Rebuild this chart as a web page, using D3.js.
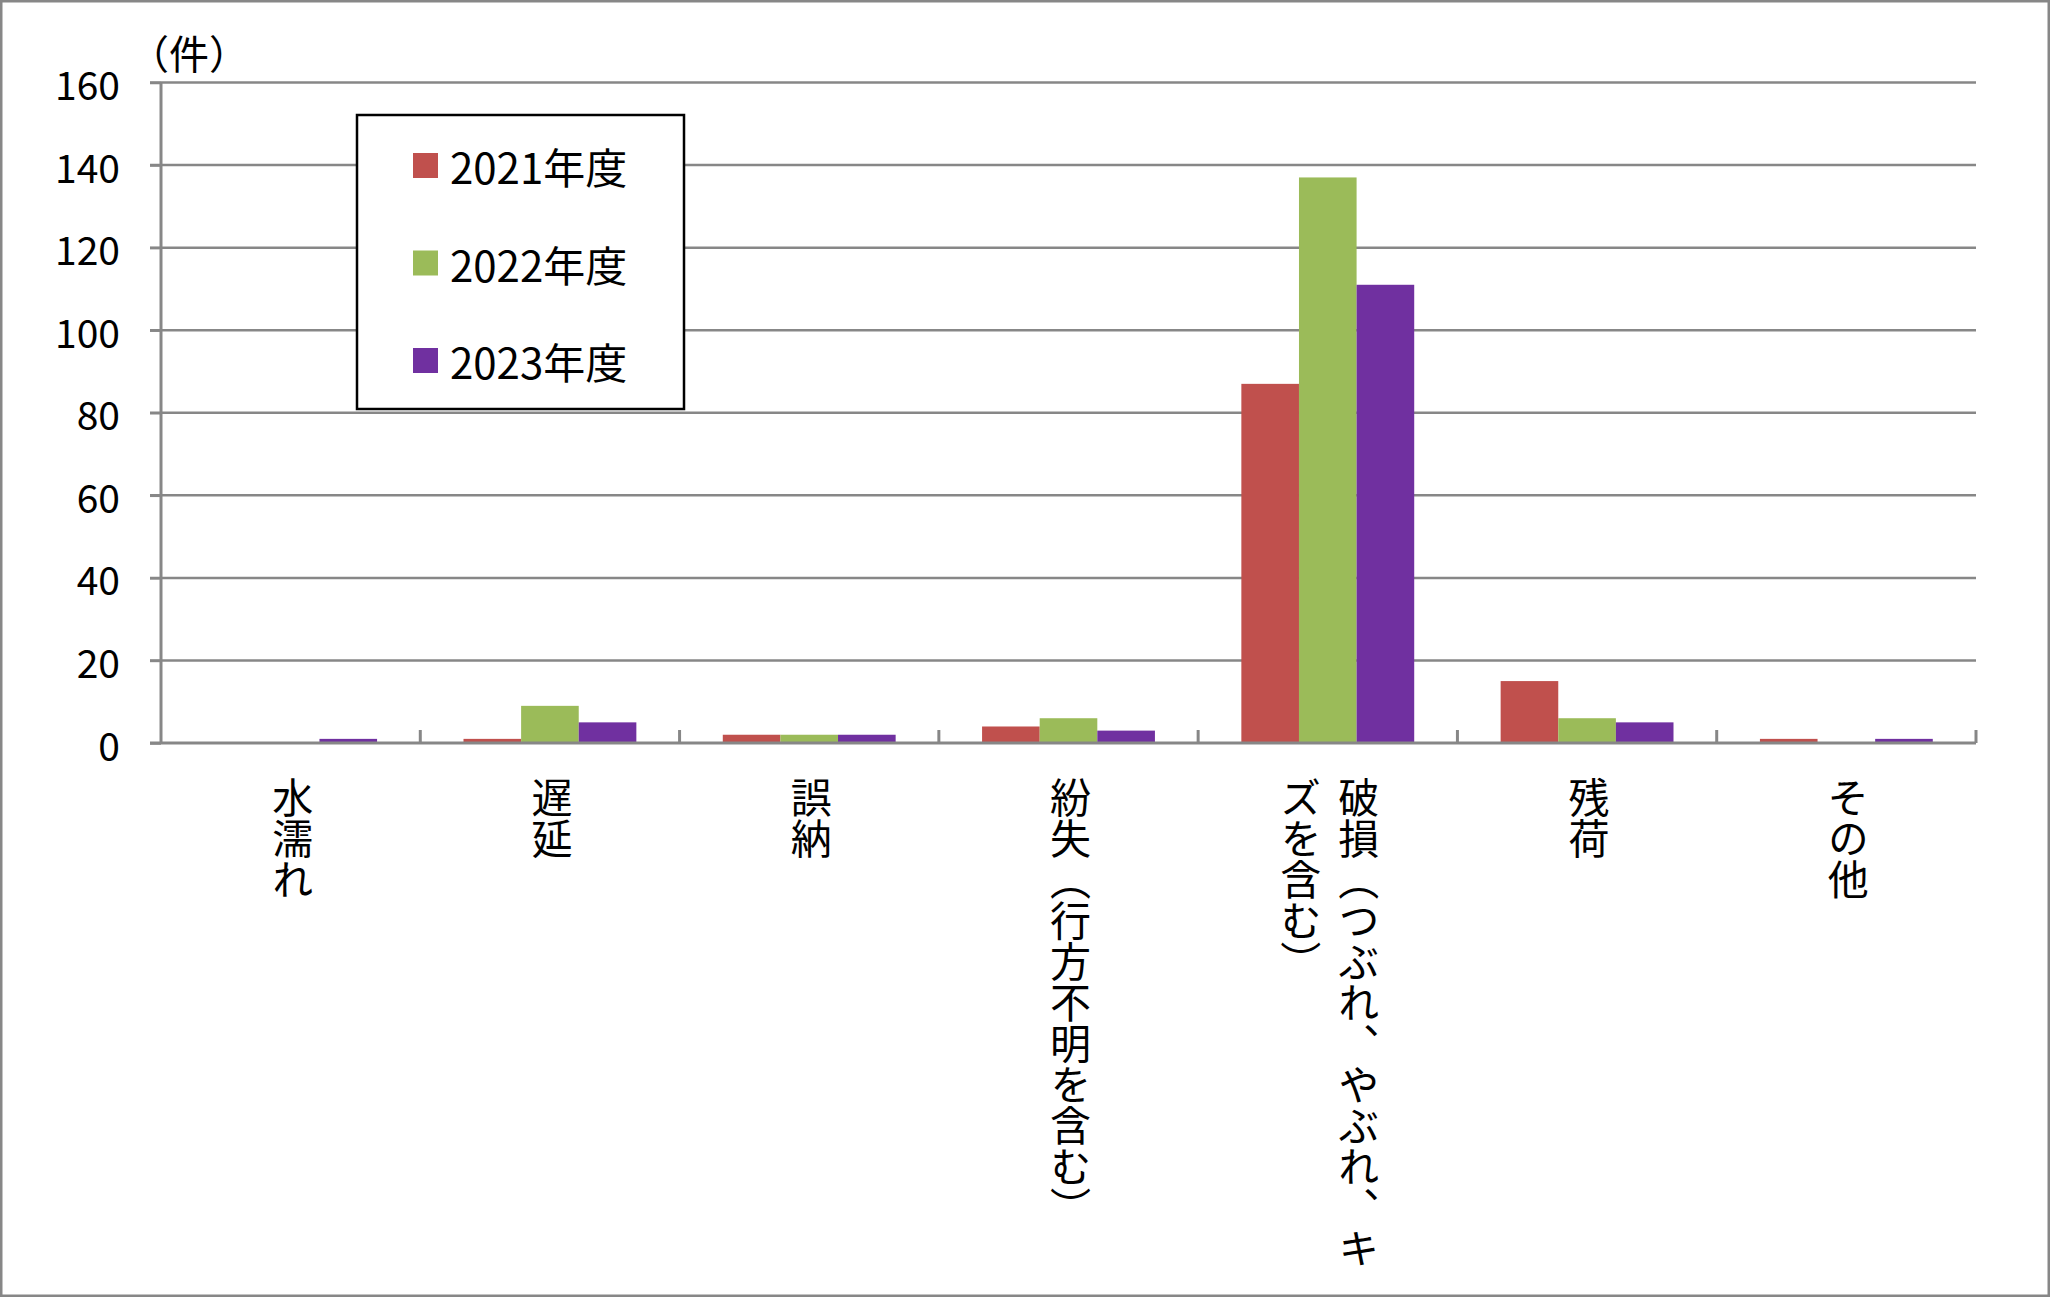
<!DOCTYPE html>
<html>
<head>
<meta charset="utf-8">
<script src="https://cdn.jsdelivr.net/npm/d3@7"></script>
<style>
  html, body { margin: 0; padding: 0; background: #fff; }
  svg text { font-family: "Noto Sans CJK JP", "Noto Sans", sans-serif; fill: #000; }
</style>
</head>
<body>
<div id="chart"></div>
<script>
'use strict';

// data
const categories = ["水濡れ", "遅延", "誤納", "紛失（行方不明を含む）", "破損（つぶれ、やぶれ、キズを含む）", "残荷", "その他"];
// how each category label wraps (vertical columns, right to left)
const categoryLines = [
    ["水濡れ"],
    ["遅延"],
    ["誤納"],
    ["紛失（行方不明を含む）"],
    ["破損（つぶれ、やぶれ、キ", "ズを含む）"],
    ["残荷"],
    ["その他"]
];
const years = ["2021年度", "2022年度", "2023年度"];
const values2021 = [0, 1, 2, 4, 87, 15, 1];
const values2022 = [0, 9, 2, 6, 137, 6, 0];
const values2023 = [1, 5, 2, 3, 111, 5, 1];
const colors = ["#C0504D", "#9BBB59", "#7030A0"];
const yTicks = [0, 20, 40, 60, 80, 100, 120, 140, 160];
const unitLabel = "（件）";

const series = [values2021, values2022, values2023];

const W = 2050, H = 1297;
const margin = {top: 82.5, right: 74, bottom: 554, left: 161};
const innerW = W - margin.left - margin.right;
const innerH = H - margin.top - margin.bottom;
const grey = "#878787";

const svg = d3.select("#chart").append("svg")
    .attr("width", W)
    .attr("height", H);

// outer border
svg.append("rect")
    .attr("x", 1.25).attr("y", 1.25)
    .attr("width", W - 2.5).attr("height", H - 2.5)
    .style("fill", "#fff")
    .style("stroke", grey)
    .style("stroke-width", 2.5);

const g = svg.append("g").attr("transform", `translate(${margin.left},${margin.top})`);

const x0 = d3.scaleBand().domain(categories).range([0, innerW]).paddingInner(0).paddingOuter(0);
const x1 = d3.scaleBand().domain(years).range([0, x0.bandwidth()]).paddingInner(0).paddingOuter(0.75);
const y = d3.scaleLinear().domain([0, 160]).range([innerH, 0]);

// gridlines (with short outside tick on the left)
g.selectAll(".grid").data(yTicks.filter(d => d > 0)).enter().append("line")
    .attr("class", "grid")
    .attr("x1", -11).attr("x2", innerW)
    .attr("y1", d => y(d)).attr("y2", d => y(d))
    .style("stroke", grey)
    .style("stroke-width", 2.5);

// y axis labels
const yAxis = g.append("g")
    .call(d3.axisLeft(y).tickValues(yTicks).tickSize(11).tickPadding(30));
yAxis.select(".domain").remove();
yAxis.selectAll(".tick line").style("stroke", grey).style("stroke-width", 2.5);
yAxis.selectAll(".tick text")
    .style("font-size", "39px")
    .style("font-family", "'Noto Sans CJK JP', sans-serif")
    .attr("dy", null)
    .style("dominant-baseline", "central");

// bars
const groups = g.selectAll(".cat").data(categories).enter().append("g")
    .attr("class", "cat")
    .attr("transform", d => `translate(${x0(d)},0)`);

groups.each(function (cat, ci) {
    d3.select(this).selectAll("rect").data(years).enter().append("rect")
        .attr("x", d => x1(d))
        .attr("width", x1.bandwidth())
        .attr("y", (d, si) => y(series[si][ci]))
        .attr("height", (d, si) => innerH - y(series[si][ci]))
        .style("fill", (d, si) => colors[si]);
});

// y axis line
g.append("line")
    .attr("x1", 0).attr("x2", 0)
    .attr("y1", 0).attr("y2", innerH)
    .style("stroke", grey)
    .style("stroke-width", 3);

// x axis line + inside ticks at category boundaries
g.append("line")
    .attr("x1", -11).attr("x2", innerW)
    .attr("y1", innerH).attr("y2", innerH)
    .style("stroke", grey)
    .style("stroke-width", 3);

const boundaries = categories.map(c => x0(c) + x0.bandwidth());
g.selectAll(".xtick").data(boundaries).enter().append("line")
    .attr("class", "xtick")
    .attr("x1", d => d).attr("x2", d => d)
    .attr("y1", innerH).attr("y2", innerH - 13)
    .style("stroke", grey)
    .style("stroke-width", 3);

// vertical category labels
const colGap = 58;
groups.each(function (cat, ci) {
    let lines = categoryLines[ci];
    let cx = x0.bandwidth() / 2 + 2;
    d3.select(this).selectAll(".clabel").data(lines).enter().append("text")
        .attr("class", "clabel")
        .text(d => d)
        .attr("x", (d, li) => cx + ((lines.length - 1) / 2 - li) * colGap)
        .attr("y", innerH + 34)
        .style("writing-mode", "vertical-rl")
        .style("font-size", "41px");
});

// unit label
svg.append("text")
    .text(unitLabel)
    .attr("x", 189)
    .attr("y", 52)
    .style("text-anchor", "middle")
    .style("dominant-baseline", "central")
    .style("font-size", "40px");

// legend
const legend = svg.append("g").attr("transform", "translate(357,115)");
legend.append("rect")
    .attr("width", 327).attr("height", 294)
    .style("fill", "#fff")
    .style("stroke", "#000")
    .style("stroke-width", 2.5);

const items = legend.selectAll(".item").data(years).enter().append("g")
    .attr("class", "item")
    .attr("transform", (d, i) => `translate(0,${50.5 + i * 97.5})`);

items.append("rect")
    .attr("x", 56).attr("y", -12.5)
    .attr("width", 25).attr("height", 25)
    .style("fill", (d, i) => colors[i]);

items.append("text")
    .text(d => d)
    .attr("x", 93)
    .attr("y", 0)
    .style("dominant-baseline", "central")
    .style("font-size", "42px");
</script>
</body>
</html>
